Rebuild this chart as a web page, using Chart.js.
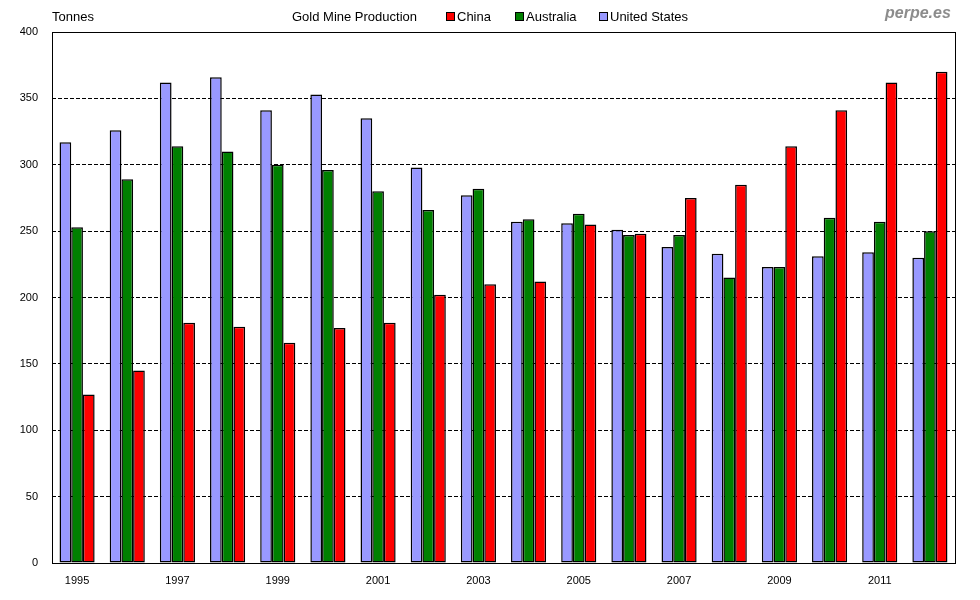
<!DOCTYPE html>
<html>
<head>
<meta charset="utf-8">
<script src="https://cdn.jsdelivr.net/npm/chart.js@4"></script>
<style>
  body { margin: 0; background: #fff; font-family: "Liberation Sans", Arial, sans-serif; }
  #wrap { position: relative; width: 980px; height: 600px; }
  .txt { position: absolute; font-size: 13px; color: #000; line-height: 14px; white-space: nowrap; }
  .box { display: inline-block; width: 7px; height: 7px; border: 1px solid #000; margin-right: 2px; vertical-align: 0px; }
  #mark { position: absolute; left: 885px; top: 4px; font-size: 16px; font-weight: bold; font-style: italic; color: #8c8c8c; }
</style>
</head>
<body>
<div id="wrap">
  <canvas id="chart" width="980" height="600"></canvas>
  <div class="txt" style="left:52px; top:10px;">Tonnes</div>
  <div class="txt" style="left:292px; top:10px;">Gold Mine Production</div>
  <div class="txt" style="left:446px; top:10px;"><span class="box" style="background:#ff0000"></span>China</div>
  <div class="txt" style="left:515px; top:10px;"><span class="box" style="background:#008000"></span>Australia</div>
  <div class="txt" style="left:599px; top:10px;"><span class="box" style="background:#9999ff"></span>United States</div>
  <div id="mark">perpe.es</div>
</div>
<script>
// ---- data ----
const years = ['1995','1996','1997','1998','1999','2000','2001','2002','2003',
               '2004','2005','2006','2007','2008','2009','2010','2011','2012'];
const unitedStates = [317, 326, 362, 366, 341, 353, 335, 298, 277, 257, 256, 251, 238, 233, 223, 231, 234, 230];
const australia    = [253, 289, 314, 310, 300, 296, 280, 266, 282, 259, 263, 247, 247, 215, 223, 260, 257, 250];
const china        = [127, 145, 181, 178, 166, 177, 181, 202, 210, 212, 255, 248, 275, 285, 314, 341, 362, 370];
const yTicks = [0, 50, 100, 150, 200, 250, 300, 350, 400];

// frame around the plot area
const frame = {
  id: 'frame',
  afterDraw(chart) {
    const a = chart.chartArea, c = chart.ctx;
    c.save();
    c.strokeStyle = '#000';
    c.lineWidth = 1;
    c.strokeRect(Math.round(a.left) + 0.5, Math.round(a.top) + 0.5,
                 Math.round(a.right - a.left), Math.round(a.bottom - a.top));
    c.restore();
  }
};

const tickFont = { family: '"Liberation Sans", Arial, sans-serif', size: 11 };

new Chart(document.getElementById('chart'), {
  type: 'bar',
  data: {
    labels: years,
    datasets: [
      { label: 'United States', data: unitedStates, backgroundColor: '#9999ff' },
      { label: 'Australia', data: australia, backgroundColor: '#008000' },
      { label: 'China', data: china, backgroundColor: '#ff0000' }
    ].map(d => Object.assign(d, {
      borderColor: '#000', borderWidth: 1.5, borderSkipped: false,
      categoryPercentage: 0.7, barPercentage: 1
    }))
  },
  options: {
    responsive: false,
    animation: false,
    layout: { padding: { left: 0, right: 25, top: 32, bottom: 0 } },
    plugins: { legend: { display: false }, tooltip: { enabled: false } },
    scales: {
      x: {
        grid: { display: false, drawTicks: false },
        border: { display: false },
        afterFit: s => { s.height = 37; },
        ticks: {
          autoSkip: false, maxRotation: 0, padding: 11, color: '#000', font: tickFont,
          callback: (v, i) => (i % 2 === 0 ? years[i] : '')
        }
      },
      y: {
        min: yTicks[0], max: yTicks[yTicks.length - 1],
        afterFit: s => { s.width = 52; },
        afterBuildTicks: s => { s.ticks = yTicks.map(v => ({ value: v })); },
        border: { display: false, dash: [4, 2] },
        grid: {
          drawTicks: false,
          color: ctx => (ctx.tick && (ctx.tick.value === 0 || ctx.tick.value === 400)) ? 'rgba(0,0,0,0)' : '#000',
          lineWidth: 1
        },
        ticks: { padding: 14, color: '#000', font: tickFont }
      }
    }
  },
  plugins: [frame]
});
</script>
</body>
</html>
